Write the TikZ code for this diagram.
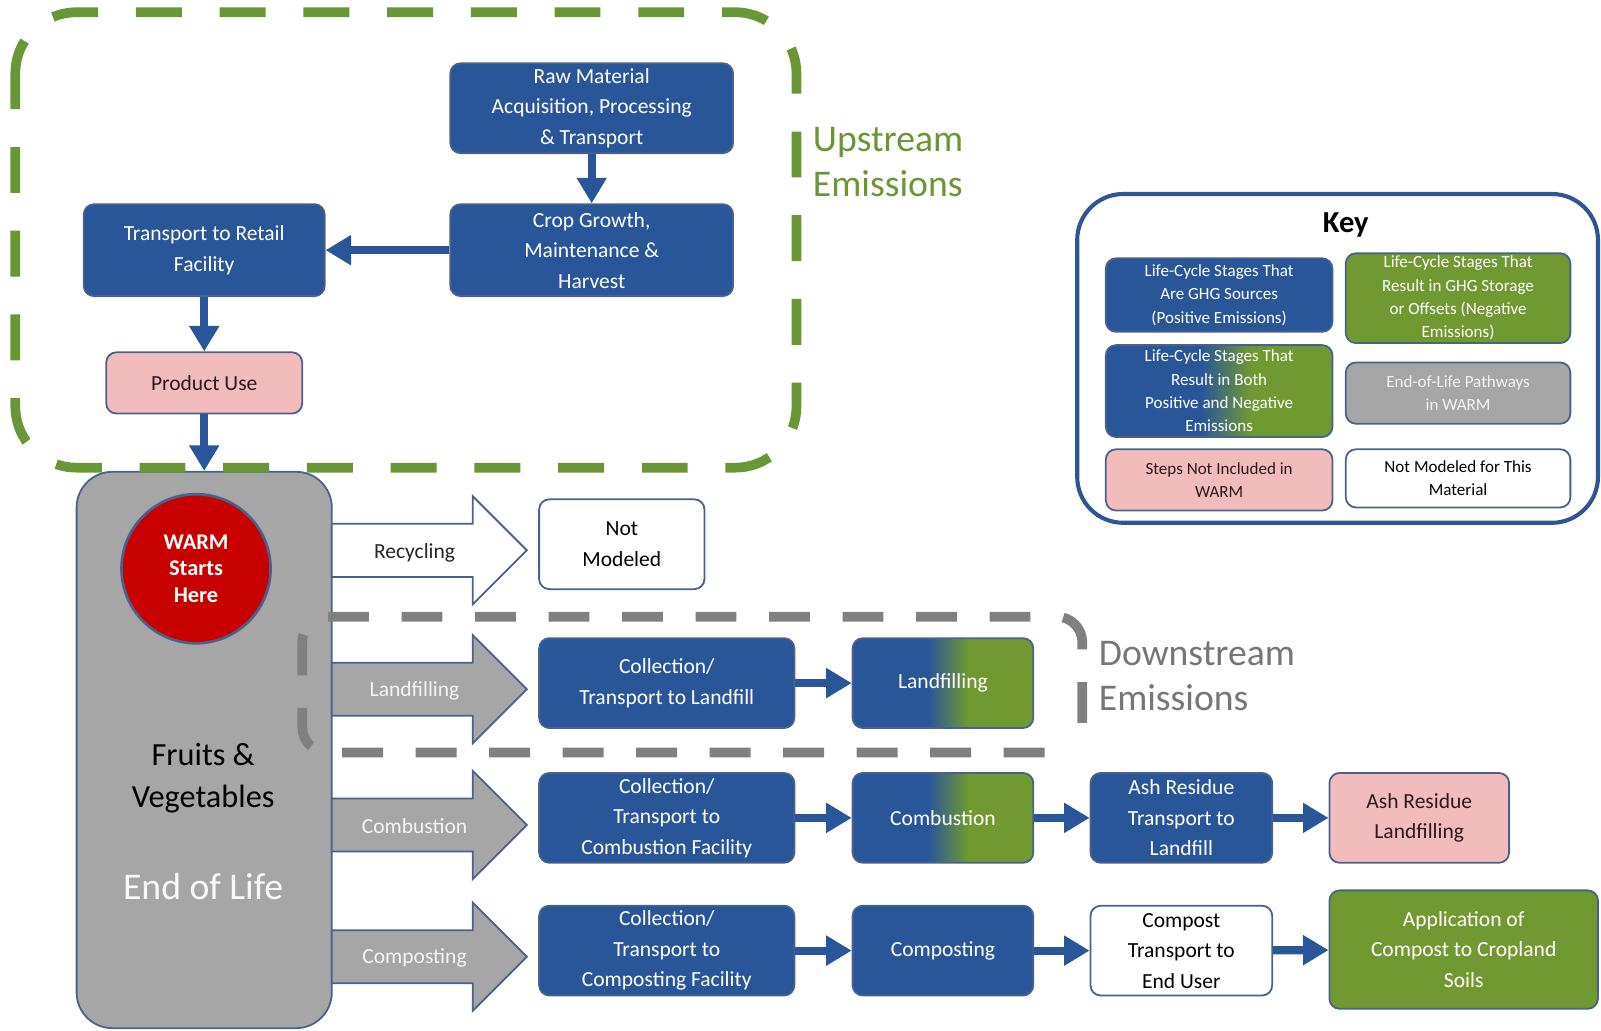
\documentclass[tikz,border=0pt]{standalone}
\usepackage{fontspec}
\setmainfont{Carlito}
\usetikzlibrary{arrows.meta,positioning}

\definecolor{warmblue}{RGB}{41,86,153}
\definecolor{warmgreen}{RGB}{112,153,50}
\definecolor{edgeblue}{RGB}{72,98,140}
\definecolor{warmpink}{RGB}{242,188,188}
\definecolor{warmgray}{RGB}{166,166,166}
\definecolor{warmred}{RGB}{200,0,0}
\definecolor{dashgreen}{RGB}{107,150,54}
\definecolor{dashgray}{RGB}{128,128,128}
\definecolor{keyblue}{RGB}{47,85,151}
\definecolor{pinktext}{RGB}{45,25,25}

\pgfdeclarehorizontalshading{bluegreen}{100bp}{color(0bp)=(warmblue); color(46bp)=(warmblue); color(57bp)=(warmgreen); color(100bp)=(warmgreen)}

\newcommand\stagefont{\fontsize{12}{17}\selectfont}
\newcommand\keyfont{\fontsize{9.5}{13}\selectfont}

\tikzset{
  stage/.style={rectangle, rounded corners=0.2cm, draw=edgeblue, line width=1pt,
    align=center, font=\stagefont, inner sep=1pt},
  bluestage/.style={stage, fill=warmblue, text=white},
  greenstage/.style={stage, fill=warmgreen, text=white},
  mixstage/.style={stage, shading=bluegreen, text=white},
  pinkstage/.style={stage, fill=warmpink, text=pinktext},
  whitestage/.style={stage, fill=white, text=black},
  graystage/.style={stage, fill=warmgray, text=white!92!gray},
  keybox/.style={font=\keyfont},
  flow/.style={draw=warmblue, line width=0.16cm, -{Triangle[length=0.5cm,width=0.56cm]}},
  pathway/.style={draw=edgeblue, line width=1pt, fill=warmgray},
  armlabel/.style={font=\stagefont, text=white!92!gray},
  updash/.style={draw=dashgreen, line width=0.19cm, rounded corners=1.2cm,
    dash pattern=on 0.9cm off 0.74cm, dash phase=0.2cm},
  downdash/.style={draw=dashgray, line width=0.19cm, rounded corners=0.5cm,
    dash pattern=on 0.8cm off 0.64cm, dash phase=1.36cm},
  bigtext/.style={font=\fontsize{21}{25}\selectfont, align=left, anchor=west}
}

\begin{document}
\begin{tikzpicture}[x=0.02cm, y=-0.02cm]
  \useasboundingbox (0,0) rectangle (1568,1009);

  % upstream stages
  \node[bluestage, minimum width=5.54cm, minimum height=1.76cm] (raw) at (579.5,106)
    {Raw Material\\Acquisition, Processing\\\& Transport};
  \node[bluestage, minimum width=5.54cm, minimum height=1.8cm] (crop) at (579.5,245)
    {Crop Growth,\\Maintenance \&\\Harvest};
  \node[bluestage, minimum width=4.72cm, minimum height=1.8cm] (retail) at (200,245)
    {Transport to Retail\\Facility};
  \node[pinkstage, minimum width=3.84cm, minimum height=1.2cm] (use) at (200,375)
    {Product Use};

  % end of life column
  \node[graystage, rounded corners=0.7cm, minimum width=5cm, minimum height=10.9cm] (eol) at (200,734.5) {};
  \node[circle, draw=edgeblue, line width=1.5pt, fill=warmred, minimum size=2.92cm,
    text=white, align=center, font=\fontsize{12.5}{15}\selectfont\bfseries] (warm) at (192,557)
    {WARM\\Starts\\Here};
  \node[align=center, font=\fontsize{18}{23}\selectfont] (fruit) at (199,762) {Fruits \&\\Vegetables};
  \node[font=\fontsize{21}{25}\selectfont, text=white!95!gray] (eoltext) at (199,868) {End of Life};

  \draw[flow] (raw) -- (crop);
  \draw[flow] (crop) -- (retail);
  \draw[flow] (retail) -- (use);
  \draw[flow] (use) -- (eol);

  % pathway arrows
  \draw[pathway, fill=white] (325,513) -- (463,513) -- (463,486) -- (516,539)
    -- (463,592) -- (463,565) -- (325,565) -- cycle;
  \draw[pathway] (325,649) -- (463,649) -- (463,622) -- (516,675)
    -- (463,728) -- (463,701) -- (325,701) -- cycle;
  \draw[pathway] (325,782) -- (463,782) -- (463,755) -- (516,808)
    -- (463,861) -- (463,834) -- (325,834) -- cycle;
  \draw[pathway] (325,911) -- (463,911) -- (463,884) -- (516,937)
    -- (463,990) -- (463,963) -- (325,963) -- cycle;
  \node[armlabel, text=black!85] (reclab) at (406,541) {Recycling};
  \node[armlabel] (lflab) at (406,677) {Landfilling};
  \node[armlabel] (cblab) at (406,809) {Combustion};
  \node[armlabel] (cplab) at (406,938) {Composting};

  % downstream stages
  \node[whitestage, minimum width=3.24cm, minimum height=1.76cm] (notmod) at (609,533) {Not\\Modeled};

  \node[bluestage, minimum width=5cm, minimum height=1.76cm] (collf) at (653,669)
    {Collection/\\Transport to Landfill};
  \node[mixstage, minimum width=3.54cm, minimum height=1.76cm] (landf) at (923.5,669) {Landfilling};

  \node[bluestage, minimum width=5cm, minimum height=1.76cm] (colcb) at (653,801)
    {Collection/\\Transport to\\Combustion Facility};
  \node[mixstage, minimum width=3.54cm, minimum height=1.76cm] (comb) at (923.5,801) {Combustion};
  \node[bluestage, minimum width=3.56cm, minimum height=1.76cm] (ashtr) at (1157,801)
    {Ash Residue\\Transport to\\Landfill};
  \node[pinkstage, minimum width=3.52cm, minimum height=1.76cm] (ashlf) at (1390,801)
    {Ash Residue\\Landfilling};

  \node[bluestage, minimum width=5cm, minimum height=1.76cm] (colcp) at (653,931)
    {Collection/\\Transport to\\Composting Facility};
  \node[bluestage, minimum width=3.54cm, minimum height=1.76cm] (comp) at (923.5,931) {Composting};
  \node[whitestage, minimum width=3.56cm, minimum height=1.76cm] (cptr) at (1157,931)
    {Compost\\Transport to\\End User};
  \node[greenstage, minimum width=5.26cm, minimum height=2.32cm] (appl) at (1433.5,930)
    {Application of\\Compost to Cropland\\Soils};

  \draw[flow] (collf) -- (landf);
  \draw[flow] (colcb) -- (comb);
  \draw[flow] (comb) -- (ashtr);
  \draw[flow] (ashtr) -- (ashlf);
  \draw[flow] (colcp) -- (comp);
  \draw[flow] (comp) -- (cptr);
  \draw[flow] (cptr) -- (appl);

  % emission boundaries
  \draw[updash] (15,12) rectangle (780,458);
  \draw[downdash] (1060,712) -- (1060,604) -- (296,604) -- (296,737) -- (1040,737);
  \node[bigtext, text=dashgreen] (uplab) at (790,159) {Upstream\\Emissions};
  \node[bigtext, text=dashgray!92!black] (downlab) at (1070,662) {Downstream\\Emissions};

  % key
  \draw[keyblue, line width=2.3pt, rounded corners=0.9cm] (1055,190) rectangle (1565,512);
  \node[font=\fontsize{17}{20}\selectfont\bfseries] (keytitle) at (1318,220) {Key};
  \node[bluestage, keybox, minimum width=4.44cm, minimum height=1.44cm] (k1) at (1194,289)
    {Life-Cycle Stages That\\Are GHG Sources\\(Positive Emissions)};
  \node[greenstage, keybox, minimum width=4.4cm, minimum height=1.76cm] (k2) at (1428,292)
    {Life-Cycle Stages That\\Result in GHG Storage\\or Offsets (Negative\\Emissions)};
  \node[mixstage, keybox, minimum width=4.44cm, minimum height=1.8cm] (k3) at (1194,383)
    {Life-Cycle Stages That\\Result in Both\\Positive and Negative\\Emissions};
  \node[graystage, keybox, minimum width=4.4cm, minimum height=1.2cm] (k4) at (1428,385)
    {End-of-Life Pathways\\in WARM};
  \node[pinkstage, keybox, minimum width=4.44cm, minimum height=1.2cm] (k5) at (1194,470)
    {Steps Not Included in\\WARM};
  \node[whitestage, keybox, minimum width=4.4cm, minimum height=1.14cm] (k6) at (1428,468.5)
    {Not Modeled for This\\Material};
\end{tikzpicture}
\end{document}
